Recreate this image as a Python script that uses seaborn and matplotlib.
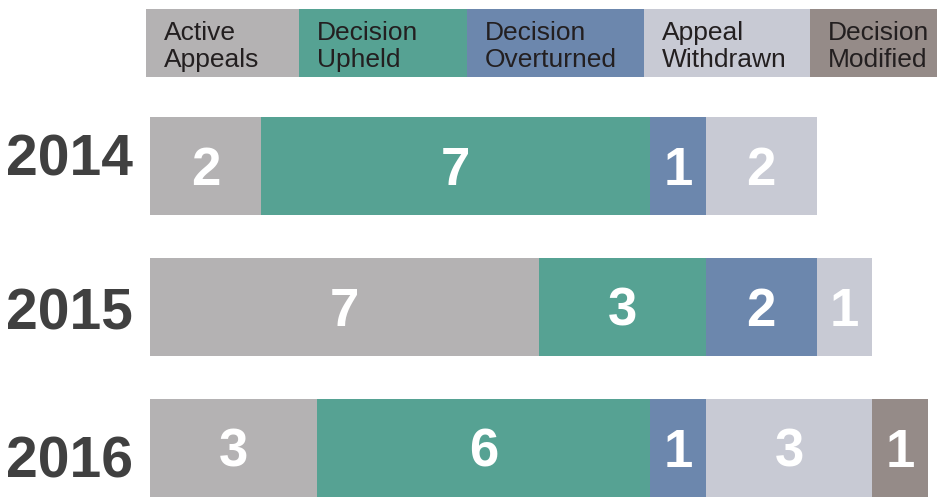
import matplotlib
matplotlib.use("Agg")
import matplotlib.pyplot as plt
from matplotlib.patches import Rectangle
from matplotlib.transforms import ScaledTranslation
import numpy as np
import pandas as pd
import seaborn as sns

years = ["2014", "2015", "2016"]
categories = ["Active\nAppeals", "Decision\nUpheld", "Decision\nOverturned", "Appeal\nWithdrawn", "Decision\nModified"]
active = [2, 7, 3]
upheld = [7, 3, 6]
overturned = [1, 2, 1]
withdrawn = [2, 1, 3]
modified = [0, 0, 1]

colors = ["#b4b2b3", "#56a293", "#6c87ad", "#c8cad4", "#958b88"]
legend_widths = [153, 168, 177, 166, 127]  # px, layout only
year_label_shift = [11, -1, -8]  # px, the year labels sit a bit off centre

series = [active, upheld, overturned, withdrawn, modified]
values = np.array(series)
cum = values.cumsum(axis=0)

sns.set_theme(style="white")
plt.rcParams["font.family"] = ["Liberation Sans", "DejaVu Sans"]

W, H = 938, 498
fig = plt.figure(figsize=(W / 100, H / 100), dpi=100)

# main bar axes: x 150..928 px for 0..14, row centers at 166/305/448 px
unit_y = 141
top_px = 166 - 0.5 * unit_y
ax = fig.add_axes([150 / W, 0, 778 / W, 1 - top_px / H])
for k in range(len(series) - 1, -1, -1):
    df = pd.DataFrame({"year": years, "val": cum[k]})
    sns.barplot(data=df, x="val", y="year", orient="h", color=colors[k],
                saturation=1, width=0.7, linewidth=0, ax=ax)

num_size = 38
half_cap = num_size * 100 / 72 * 0.716 / 2 / unit_y
for k in range(len(series)):
    for i in range(len(years)):
        v = values[k, i]
        if v > 0:
            ax.text(cum[k, i] - v / 2, i + half_cap, str(v), ha="center", va="baseline",
                    color="white", fontsize=num_size, fontweight="bold")

ax.set_xlim(0, 14)
ax.set_ylim(2 + (H - 448) / unit_y, -0.5)
ax.set_xlabel("")
ax.set_ylabel("")
ax.set_xticks([])
ax.tick_params(axis="y", length=0, pad=12)
for lab, dy in zip(ax.get_yticklabels(), year_label_shift):
    lab.set_fontsize(41)
    lab.set_fontweight("bold")
    lab.set_color("#404040")
    lab.set_transform(lab.get_transform() + ScaledTranslation(0, dy / 100, fig.dpi_scale_trans))
sns.despine(ax=ax, left=True, bottom=True)

# legend boxes
lx0, ly0, ly1 = 146, 9, 77
lax = fig.add_axes([lx0 / W, 1 - ly1 / H, (W - lx0) / W, (ly1 - ly0) / H])
lax.set_xlim(lx0, W)
lax.set_ylim(0, 1)
lax.axis("off")
x = lx0
for name, c, w in zip(categories, colors, legend_widths):
    lax.add_patch(Rectangle((x, 0), w, 1, facecolor=c, edgecolor="none"))
    lax.text(x + 18, 0.45, name, ha="left", va="center", fontsize=19,
             color="#231f20", linespacing=1.18)
    x += w

fig.savefig("out.png", dpi=100)
